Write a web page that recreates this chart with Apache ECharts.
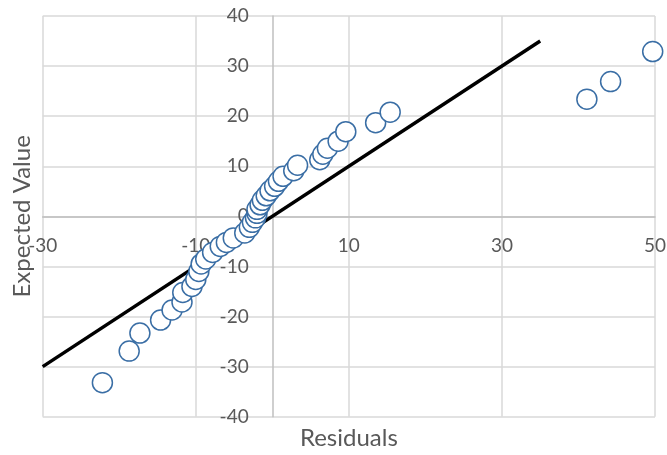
<!DOCTYPE html>
<html>
<head>
<meta charset="utf-8">
<script src="https://cdn.jsdelivr.net/npm/echarts@6/dist/echarts.min.js"></script>
<style>html,body{margin:0;padding:0;background:#fff}#c{width:667px;height:455px}</style>
</head>
<body>
<div id="c"></div>
<script>
// Residuals (x) vs Expected Value (y)
const residuals = [-22.2, -18.7, -17.3, -14.6, -13.1, -11.8, -11.7, -10.5, -10.0, -9.6, -9.3, -8.7, -7.8, -6.8, -6.0, -5.1, -3.6, -3.0, -2.6, -2.2, -2.0, -2.0, -1.6, -1.3, -0.8, -0.3, 0.3, 0.8, 1.4, 2.8, 3.3, 6.2, 6.6, 7.2, 8.6, 9.6, 13.5, 15.4, 41.1, 44.2, 49.7];
const expectedValues = [-33.2, -26.9, -23.3, -20.7, -18.7, -17.1, -15.2, -14.0, -12.6, -11.0, -9.5, -8.5, -7.2, -6.0, -5.2, -4.3, -3.3, -2.2, -1.2, -0.3, 0.6, 1.4, 2.3, 3.2, 4.1, 5.1, 6.0, 7.0, 8.0, 9.1, 10.2, 11.3, 12.4, 13.6, 15.0, 16.9, 18.7, 20.8, 23.4, 26.9, 32.9];
const refLineX = [-30, 35];
const refLineY = [-30, 35];
const xTicks = [-30, -10, 10, 30, 50];
const yTicks = [-40, -30, -20, -10, 0, 10, 20, 30, 40];

const font = 'Lato, "Open Sans", sans-serif';
const chart = echarts.init(document.getElementById('c'), null, {renderer: 'canvas'});
chart.setOption({
  animation: false,
  grid: {left: 42.7, right: 12, top: 16, bottom: 38.3, containLabel: false, outerBoundsMode: 'none'},
  xAxis: {
    type: 'value', min: xTicks[0], max: xTicks[xTicks.length - 1], interval: 20,
    name: 'Residuals', nameLocation: 'middle', nameGap: 10,
    nameTextStyle: {fontFamily: font, fontSize: 24, color: '#595959', verticalAlign: 'top'},
    axisLine: {onZero: true, lineStyle: {color: '#BFBFBF', width: 1.5}},
    axisTick: {show: false},
    axisLabel: {fontFamily: font, fontSize: 19, color: '#595959', margin: -180, showMinLabel: true, showMaxLabel: true},
    splitLine: {show: true, lineStyle: {color: '#D9D9D9', width: 1.5}}
  },
  yAxis: {
    type: 'value', min: yTicks[0], max: yTicks[yTicks.length - 1], interval: 10,
    name: 'Expected Value', nameLocation: 'middle', nameGap: 8, nameRotate: 90,
    nameTextStyle: {fontFamily: font, fontSize: 24, color: '#595959', verticalAlign: 'bottom'},
    axisLine: {onZero: true, lineStyle: {color: '#BFBFBF', width: 1.5}},
    axisTick: {show: false},
    axisLabel: {fontFamily: font, fontSize: 19, color: '#595959', margin: -206},
    splitLine: {show: true, lineStyle: {color: '#D9D9D9', width: 1.5}}
  },
  series: [
    {
      type: 'line',
      data: refLineX.map((x, i) => [x, refLineY[i]]),
      showSymbol: false, symbol: 'none',
      lineStyle: {color: '#000', width: 3.5},
      z: 2
    },
    {
      type: 'scatter',
      data: residuals.map((x, i) => [x, expectedValues[i]]),
      symbol: 'circle', symbolSize: 20,
      itemStyle: {color: '#fff', borderColor: '#3A6EA5', borderWidth: 1.5, opacity: 1},
      z: 3
    }
  ]
});
</script>
</body>
</html>
